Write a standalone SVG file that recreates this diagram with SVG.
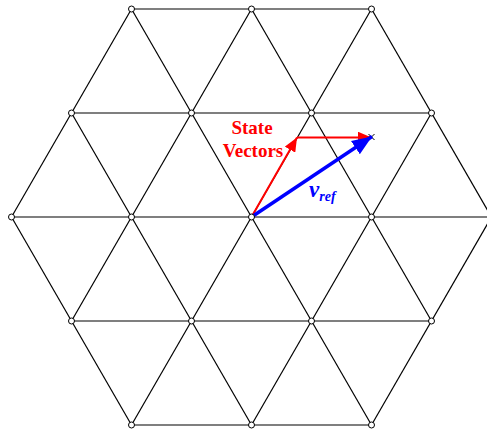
<svg xmlns="http://www.w3.org/2000/svg" width="487" height="433" viewBox="0 0 487 433">
<style>
.grid line{stroke:#000;stroke-width:1.2;fill:none}
.node{fill:#fff;stroke:#000;stroke-width:1}
.lbl{font-family:"Liberation Serif","Times New Roman",serif;font-weight:bold}
</style>
<defs>
<marker id="ahr" markerUnits="userSpaceOnUse" markerWidth="16" markerHeight="12" refX="14" refY="6" orient="auto"><path d="M0,0 L14,6 L0,12 Z" fill="#f00"/></marker>
<marker id="ahb" markerUnits="userSpaceOnUse" markerWidth="22" markerHeight="18" refX="20" refY="9" orient="auto"><path d="M0,1 L20,9 L0,17 Z" fill="#00f"/></marker>
</defs>
<rect width="487" height="433" fill="#fff"/>
<g id="connectors" class="grid">
<line x1="131.5" y1="9" x2="371.5" y2="9"/>
<line x1="71.5" y1="113" x2="431.5" y2="113"/>
<line x1="11.5" y1="217" x2="491.5" y2="217"/>
<line x1="71.5" y1="321" x2="431.5" y2="321"/>
<line x1="131.5" y1="425" x2="371.5" y2="425"/>
<line x1="11.5" y1="217" x2="131.5" y2="9"/>
<line x1="71.5" y1="321" x2="251.5" y2="9"/>
<line x1="131.5" y1="425" x2="371.5" y2="9"/>
<line x1="251.5" y1="425" x2="431.5" y2="113"/>
<line x1="371.5" y1="425" x2="491.5" y2="217"/>
<line x1="371.5" y1="9" x2="491.5" y2="217"/>
<line x1="251.5" y1="9" x2="431.5" y2="321"/>
<line x1="131.5" y1="9" x2="371.5" y2="425"/>
<line x1="71.5" y1="113" x2="251.5" y2="425"/>
<line x1="11.5" y1="217" x2="131.5" y2="425"/>
</g>
<g id="nodes">
<circle class="node" cx="131.5" cy="9" r="3"/><circle class="node" cx="251.5" cy="9" r="3"/><circle class="node" cx="371.5" cy="9" r="3"/>
<circle class="node" cx="71.5" cy="113" r="3"/><circle class="node" cx="191.5" cy="113" r="3"/><circle class="node" cx="311.5" cy="113" r="3"/><circle class="node" cx="431.5" cy="113" r="3"/>
<circle class="node" cx="11.5" cy="217" r="3"/><circle class="node" cx="131.5" cy="217" r="3"/><circle class="node" cx="371.5" cy="217" r="3"/><circle class="node" cx="491.5" cy="217" r="3"/>
<circle class="node" cx="71.5" cy="321" r="3"/><circle class="node" cx="191.5" cy="321" r="3"/><circle class="node" cx="311.5" cy="321" r="3"/><circle class="node" cx="431.5" cy="321" r="3"/>
<circle class="node" cx="131.5" cy="425" r="3"/><circle class="node" cx="251.5" cy="425" r="3"/><circle class="node" cx="371.5" cy="425" r="3"/>
</g>
<g id="vectors">
<line x1="251.5" y1="217" x2="297" y2="137.5" stroke="#f00" stroke-width="2" marker-end="url(#ahr)"/>
<line x1="297" y1="137.5" x2="371.5" y2="137.5" stroke="#f00" stroke-width="2" marker-end="url(#ahr)"/>
<path d="M368.5,134 L374.5,140 M368.5,140 L374.5,134" stroke="#000" stroke-width="1" fill="none"/>
<line x1="251.5" y1="217" x2="372" y2="136.5" stroke="#00f" stroke-width="3.5" marker-end="url(#ahb)"/>
<circle class="node" cx="251.5" cy="217" r="3"/>
</g>
<g id="labels">
<text class="lbl" x="252" y="134" font-size="19" fill="#f00" text-anchor="middle">State</text>
<text class="lbl" x="253" y="157" font-size="19" fill="#f00" text-anchor="middle">Vectors</text>
<text class="lbl" x="309" y="197" font-size="23" fill="#00f" font-style="italic">v<tspan font-size="14" dy="4">ref</tspan></text>
</g>
</svg>
